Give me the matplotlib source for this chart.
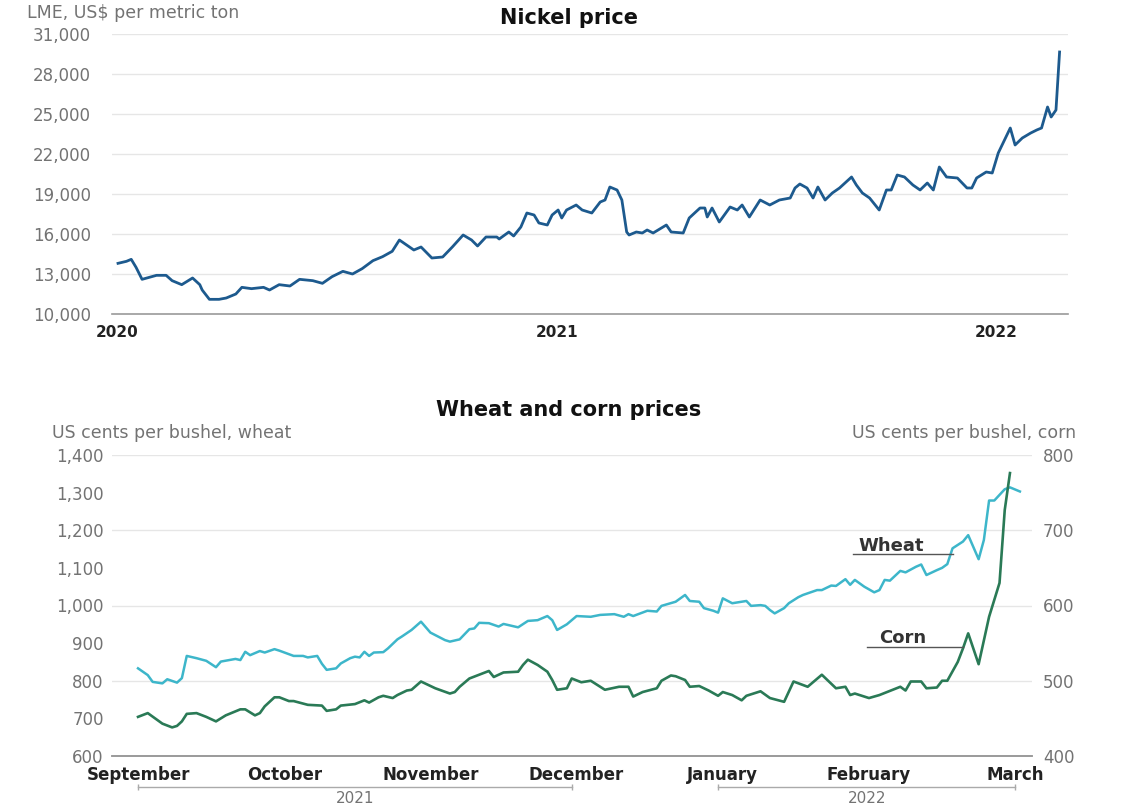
import matplotlib
matplotlib.use("Agg")
import matplotlib.pyplot as plt
import matplotlib.ticker as mticker
import pandas as pd

# ---- data ----
# Nickel, LME price, US$ per metric ton
nickel_dates = [
    "2020-01-02", "2020-01-09", "2020-01-13", "2020-01-17", "2020-01-22", "2020-02-03", "2020-02-11", "2020-02-16",
    "2020-02-24", "2020-03-04", "2020-03-10", "2020-03-12", "2020-03-18", "2020-03-26", "2020-04-01", "2020-04-09",
    "2020-04-14", "2020-04-22", "2020-05-02", "2020-05-07", "2020-05-15", "2020-05-24", "2020-06-01", "2020-06-12",
    "2020-06-20", "2020-06-28", "2020-07-07", "2020-07-15", "2020-07-23", "2020-08-01", "2020-08-09", "2020-08-17",
    "2020-08-23", "2020-08-29", "2020-09-04", "2020-09-10", "2020-09-19", "2020-09-28", "2020-10-06", "2020-10-15",
    "2020-10-22", "2020-10-27", "2020-11-03", "2020-11-12", "2020-11-14", "2020-11-22", "2020-11-26", "2020-12-02",
    "2020-12-07", "2020-12-13", "2020-12-17", "2020-12-24", "2020-12-28",
    "2021-01-02", "2021-01-05", "2021-01-09", "2021-01-17", "2021-01-22", "2021-01-30", "2021-02-06", "2021-02-10",
    "2021-02-14", "2021-02-20", "2021-02-24", "2021-02-28", "2021-03-02", "2021-03-08", "2021-03-13", "2021-03-17",
    "2021-03-22", "2021-04-02", "2021-04-06", "2021-04-16", "2021-04-21", "2021-04-30", "2021-05-04", "2021-05-06",
    "2021-05-10", "2021-05-16", "2021-05-25", "2021-05-31", "2021-06-04", "2021-06-10", "2021-06-19", "2021-06-27",
    "2021-07-05", "2021-07-14", "2021-07-18", "2021-07-22", "2021-07-28", "2021-08-02", "2021-08-06", "2021-08-12",
    "2021-08-18", "2021-08-24", "2021-09-03", "2021-09-07", "2021-09-12", "2021-09-18", "2021-09-26", "2021-10-02",
    "2021-10-06", "2021-10-11", "2021-10-17", "2021-10-24", "2021-10-30", "2021-11-05", "2021-11-10", "2021-11-15",
    "2021-11-21", "2021-11-30", "2021-12-08", "2021-12-12", "2021-12-16", "2021-12-24", "2021-12-29",
    "2022-01-03", "2022-01-07", "2022-01-13", "2022-01-17", "2022-01-23", "2022-01-30", "2022-02-04", "2022-02-08",
    "2022-02-13", "2022-02-16", "2022-02-20", "2022-02-23",
]
nickel_values = [
    13800, 13950, 14100, 13500, 12600, 12900, 12900, 12500,
    12200, 12700, 12200, 11800, 11100, 11100, 11200, 11500,
    12000, 11900, 12000, 11800, 12200, 12100, 12600, 12500,
    12300, 12800, 13200, 13000, 13400, 14000, 14300, 14700,
    15550, 15175, 14800, 15025, 14200, 14275, 15025, 15925,
    15550, 15100, 15775, 15775, 15625, 16150, 15850, 16525,
    17575, 17425, 16825, 16675, 17425,
    17800, 17200, 17800, 18175, 17800, 17575, 18400, 18550,
    19525, 19300, 18550, 16150, 15925, 16150, 16075, 16300,
    16075, 16675, 16150, 16075, 17200, 17950, 17950, 17275,
    17950, 16900, 18025, 17800, 18175, 17275, 18550, 18175,
    18550, 18700, 19450, 19750, 19450, 18700, 19525, 18550,
    19075, 19450, 20275, 19675, 19075, 18700, 17800, 19300,
    19300, 20425, 20275, 19675, 19300, 19825, 19300, 21025,
    20275, 20200, 19450, 19450, 20200, 20650, 20575,
    22075, 22825, 23950, 22675, 23200, 23575, 23800, 23950,
    25525, 24775, 25300, 29650,
]
nickel_years = ["2020", "2021", "2022"]

# Wheat, US cents per bushel (left axis)
wheat_dates = [
    "2021-09-01", "2021-09-03", "2021-09-04", "2021-09-06", "2021-09-07", "2021-09-09", "2021-09-10", "2021-09-11",
    "2021-09-13", "2021-09-15", "2021-09-17", "2021-09-18", "2021-09-21", "2021-09-22", "2021-09-23", "2021-09-24",
    "2021-09-26", "2021-09-27", "2021-09-29", "2021-09-30",
    "2021-10-03", "2021-10-05", "2021-10-06", "2021-10-08", "2021-10-09", "2021-10-10", "2021-10-12", "2021-10-13",
    "2021-10-15", "2021-10-16", "2021-10-17", "2021-10-18", "2021-10-19", "2021-10-20", "2021-10-22", "2021-10-23",
    "2021-10-25", "2021-10-26", "2021-10-28", "2021-10-30",
    "2021-11-01", "2021-11-04", "2021-11-05", "2021-11-07", "2021-11-09", "2021-11-10", "2021-11-11", "2021-11-13",
    "2021-11-15", "2021-11-16", "2021-11-19", "2021-11-21", "2021-11-23", "2021-11-25", "2021-11-26", "2021-11-27",
    "2021-11-29",
    "2021-12-01", "2021-12-04", "2021-12-06", "2021-12-09", "2021-12-11", "2021-12-12", "2021-12-13", "2021-12-16",
    "2021-12-18", "2021-12-19", "2021-12-22", "2021-12-24", "2021-12-25", "2021-12-27", "2021-12-28", "2021-12-30",
    "2021-12-31",
    "2022-01-01", "2022-01-03", "2022-01-06", "2022-01-07", "2022-01-09", "2022-01-10", "2022-01-11", "2022-01-12",
    "2022-01-14", "2022-01-15", "2022-01-17", "2022-01-18", "2022-01-21", "2022-01-22", "2022-01-24", "2022-01-25",
    "2022-01-27", "2022-01-28", "2022-01-29", "2022-01-31",
    "2022-02-02", "2022-02-03", "2022-02-04", "2022-02-05", "2022-02-07", "2022-02-08", "2022-02-10", "2022-02-11",
    "2022-02-12", "2022-02-14", "2022-02-15", "2022-02-16", "2022-02-17", "2022-02-19", "2022-02-20", "2022-02-22",
    "2022-02-23", "2022-02-24", "2022-02-25", "2022-02-26", "2022-02-27", "2022-02-28",
    "2022-03-02",
]
wheat_values = [
    833, 815, 797, 793, 804, 795, 807, 866,
    860, 853, 836, 851, 858, 855, 877, 868,
    879, 875, 884, 880,
    866, 866, 862, 866, 845, 829, 833, 846,
    860, 864, 862, 877, 866, 875, 876, 886,
    910, 918, 935, 957,
    928, 908, 904, 910, 937, 939, 954, 953,
    944, 951, 942, 959, 961, 972, 961, 935,
    950,
    972, 970, 975, 977, 970, 977, 972, 986,
    984, 999, 1010, 1028, 1012, 1010, 993, 986,
    981,
    1019, 1006, 1012, 999, 1001, 999, 988, 979,
    993, 1006, 1022, 1028, 1041, 1041, 1053, 1052,
    1070, 1055, 1068, 1050,
    1035, 1041, 1068, 1066, 1092, 1088, 1103, 1109,
    1081, 1094, 1100, 1110, 1152, 1170, 1187, 1123,
    1174, 1279, 1279, 1294, 1309, 1314,
    1303,
]

# Corn, US cents per bushel (right axis)
corn_dates = [
    "2021-09-01", "2021-09-03", "2021-09-06", "2021-09-08", "2021-09-09", "2021-09-10", "2021-09-11", "2021-09-13",
    "2021-09-15", "2021-09-17", "2021-09-19", "2021-09-22", "2021-09-23", "2021-09-25", "2021-09-26", "2021-09-27",
    "2021-09-29", "2021-09-30",
    "2021-10-02", "2021-10-03", "2021-10-06", "2021-10-09", "2021-10-10", "2021-10-12", "2021-10-13", "2021-10-16",
    "2021-10-18", "2021-10-19", "2021-10-21", "2021-10-22", "2021-10-24", "2021-10-25", "2021-10-27", "2021-10-28",
    "2021-10-30",
    "2021-11-02", "2021-11-05", "2021-11-06", "2021-11-07", "2021-11-09", "2021-11-11", "2021-11-13", "2021-11-14",
    "2021-11-16", "2021-11-19", "2021-11-20", "2021-11-21", "2021-11-23", "2021-11-25", "2021-11-26", "2021-11-27",
    "2021-11-29", "2021-11-30",
    "2021-12-02", "2021-12-04", "2021-12-07", "2021-12-10", "2021-12-12", "2021-12-13", "2021-12-15", "2021-12-18",
    "2021-12-19", "2021-12-21", "2021-12-22", "2021-12-24", "2021-12-25", "2021-12-27", "2021-12-29", "2021-12-31",
    "2022-01-01", "2022-01-03", "2022-01-05", "2022-01-06", "2022-01-09", "2022-01-11", "2022-01-14", "2022-01-16",
    "2022-01-19", "2022-01-22", "2022-01-25", "2022-01-27", "2022-01-28", "2022-01-29",
    "2022-02-01", "2022-02-03", "2022-02-07", "2022-02-08", "2022-02-09", "2022-02-11", "2022-02-12", "2022-02-14",
    "2022-02-15", "2022-02-16", "2022-02-18", "2022-02-19", "2022-02-20", "2022-02-22", "2022-02-24", "2022-02-26",
    "2022-02-27", "2022-02-28",
]
corn_values = [
    452, 457, 443, 438, 440, 446, 456, 457,
    452, 446, 454, 462, 462, 454, 457, 466,
    478, 478,
    473, 473, 468, 467, 460, 462, 467, 469,
    474, 471, 478, 480, 477, 481, 487, 488,
    499,
    490, 483, 485, 492, 503, 508, 513, 505,
    511, 512, 521, 528, 521, 512, 501, 488,
    490, 503,
    498, 500, 488, 492, 492, 479, 485, 490,
    500, 507, 506, 501, 492, 493, 487, 480,
    485, 481, 474, 480, 486, 477, 472, 499,
    492, 508, 490, 492, 481, 483,
    477, 481, 492, 487, 499, 499, 490, 491,
    500, 500, 525, 543, 563, 522, 585, 630,
    727, 776,
]

month_labels = ["September", "October", "November", "December", "January", "February", "March"]
grain_years = ["2021", "2022"]

# ---- style ----
W, H = 1126, 808
NICKEL = "#1d5a8e"
WHEAT = "#3db6ca"
CORN = "#2a7a56"
GRID = "#e6e6e6"
SPINE = "#9a9a9a"
GREY = "#737373"
DARK = "#222222"


def month_pos(dates):
    # months are equally spaced on the grain chart, Sep 2021 = 0
    d = pd.to_datetime(pd.Series(dates))
    return ((d.dt.year - 2021) * 12 + d.dt.month - 9 + (d.dt.day - 1) / d.dt.days_in_month).to_numpy()


fig = plt.figure(figsize=(W / 100, H / 100), dpi=100)
fig.patch.set_facecolor("white")

# ---- Nickel price ----
ax1 = fig.add_axes([112 / W, 1 - 314 / H, (1068 - 112) / W, 280 / H])
ax1.plot(pd.to_datetime(nickel_dates), nickel_values, color=NICKEL, lw=2.0, solid_joinstyle="round")
ax1.set_ylim(10000, 31000)
ax1.set_yticks(range(10000, 31001, 3000))
ax1.yaxis.set_major_formatter(mticker.StrMethodFormatter("{x:,.0f}"))
ax1.set_xlim(pd.Timestamp("2019-12-28"), pd.Timestamp("2022-03-02"))
ax1.set_xticks(pd.to_datetime([y + "-01-01" for y in nickel_years]))
ax1.set_xticklabels(nickel_years, fontweight="bold")
ax1.grid(axis="y", color=GRID, lw=1)
ax1.set_axisbelow(True)
for s in ["top", "right", "left"]:
    ax1.spines[s].set_visible(False)
ax1.spines["bottom"].set_color(SPINE)
ax1.spines["bottom"].set_linewidth(1.2)
ax1.tick_params(axis="y", length=0, pad=15, labelsize=12, labelcolor=GREY)
ax1.tick_params(axis="x", length=0, pad=8, labelsize=11, labelcolor=DARK)

fig.text(27 / W, 1 - 13 / H, "LME, US$ per metric ton", ha="left", va="center", fontsize=12.5, color=GREY)
fig.text(569 / W, 1 - 18 / H, "Nickel price", ha="center", va="center", fontsize=15, fontweight="bold", color="#111111")

# ---- Wheat and corn prices ----
ax2 = fig.add_axes([112 / W, 1 - 756 / H, (1032 - 112) / W, 301 / H])
axc = ax2.twinx()
ax2.plot(month_pos(wheat_dates), wheat_values, color=WHEAT, lw=1.8, solid_joinstyle="round")
axc.plot(month_pos(corn_dates), corn_values, color=CORN, lw=1.9, solid_joinstyle="round")

ax2.set_xlim(-0.178, 6.115)
ax2.set_ylim(600, 1400)
ax2.set_yticks(range(600, 1401, 100))
ax2.yaxis.set_major_formatter(mticker.StrMethodFormatter("{x:,.0f}"))
axc.set_ylim(400, 800)
axc.set_yticks(range(400, 801, 100))
for y in range(800, 1401, 200):
    ax2.axhline(y, color=GRID, lw=1, zorder=0)

ax2.set_xticks(range(len(month_labels)))
ax2.set_xticklabels(month_labels, fontweight="bold")
for a in (ax2, axc):
    for s in ["top", "right", "left"]:
        a.spines[s].set_visible(False)
    a.spines["bottom"].set_color(SPINE)
    a.spines["bottom"].set_linewidth(1.2)
ax2.tick_params(axis="y", length=0, pad=6, labelsize=12, labelcolor=GREY)
axc.tick_params(axis="y", length=0, pad=8, labelsize=12, labelcolor=GREY)
ax2.tick_params(axis="x", length=0, pad=7, labelsize=12, labelcolor=DARK)

# year brackets under the month labels
trans = ax2.get_xaxis_transform()
year_spans = [(0, 2.97), (3.97, 6.0)]
for (x0, x1), yr in zip(year_spans, grain_years):
    ax2.plot([x0, x1], [-0.103, -0.103], transform=trans, color="#aaaaaa", lw=1,
             marker="|", markersize=4, clip_on=False)
    ax2.text((x0 + x1) / 2, -0.14, yr, transform=trans, ha="center", va="center",
             fontsize=11, color=GREY)

# series labels
ax2.plot([4.89, 5.574], [1137, 1137], color="#555555", lw=1)
ax2.text(5.15, 1145, "Wheat", ha="center", va="baseline", fontsize=13, fontweight="bold", color="#333333")
axc.plot([4.986, 5.643], [545, 545], color="#555555", lw=1)
axc.text(5.23, 550, "Corn", ha="center", va="baseline", fontsize=13, fontweight="bold", color="#333333")

fig.text(569 / W, 1 - 410 / H, "Wheat and corn prices", ha="center", va="center", fontsize=15,
         fontweight="bold", color="#111111")
fig.text(52 / W, 1 - 433 / H, "US cents per bushel, wheat", ha="left", va="center", fontsize=12.5, color=GREY)
fig.text(1076 / W, 1 - 433 / H, "US cents per bushel, corn", ha="right", va="center", fontsize=12.5, color=GREY)

fig.savefig("out.png", dpi=100)
